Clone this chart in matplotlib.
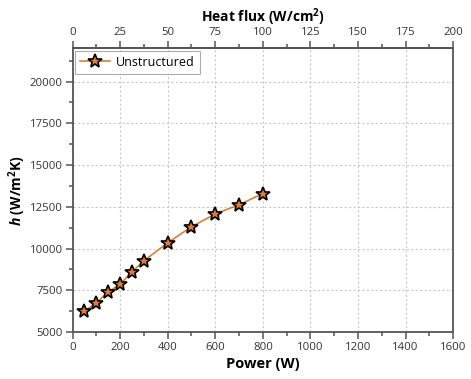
import matplotlib.pyplot as plt
from matplotlib.ticker import MultipleLocator, FixedLocator

plt.rcParams['font.family'] = ['Open Sans', 'DejaVu Sans']
plt.rcParams['mathtext.fontset'] = 'custom'
plt.rcParams['mathtext.rm'] = 'Open Sans'
plt.rcParams['mathtext.bf'] = 'Open Sans:bold'
plt.rcParams['mathtext.bfit'] = 'Open Sans:bold:italic'

# Heat transfer coefficient vs. heater power, unstructured surface
power = [50, 100, 150, 200, 250, 300, 400, 500, 600, 700, 800]
h_vals = [6240, 6740, 7400, 7860, 8600, 9260, 10340, 11300, 12070, 12620, 13290]
flux_ticks = [0, 25, 50, 75, 100, 125, 150, 175, 200]

# Heater area used to convert power to heat flux (W -> W/cm^2)
area = 8.0

fig = plt.figure(figsize=(4.71, 3.79), dpi=100)
ax = fig.add_axes([0.154, 0.124, 0.808, 0.749])

ax.plot(power, h_vals, color='#E07B35', lw=1.2, marker='*', ms=10.5,
        mfc='#E07B35', mec='black', mew=1.2, label='Unstructured')

ax.set_xlim(0, 1600)
ax.set_ylim(5000, 22000)
ax.xaxis.set_major_locator(MultipleLocator(200))
ax.xaxis.set_minor_locator(MultipleLocator(100))
ax.yaxis.set_minor_locator(MultipleLocator(1250))
ax.set_yticks([5000, 7500, 10000, 12500, 15000, 17500, 20000])

ax.grid(True, which='major', ls=(0, (2, 2)), color='#c8c8c8', lw=0.8)
ax.set_axisbelow(True)

for sp in ax.spines.values():
    sp.set_color('#555555')
    sp.set_linewidth(1.3)

ax.tick_params(which='both', direction='out', color='#555555', width=1.1,
               labelsize=8.2, colors='#333333', pad=2)
ax.tick_params(which='major', length=5)
ax.tick_params(which='minor', length=3)
ax.tick_params(axis='y', which='both', right=False)

ax.set_xlabel('Power (W)', fontsize=10.5, fontweight='bold', labelpad=3)
ax.set_ylabel(r'$\mathbfit{h}$ (W/m$^\mathbf{2}$K)', fontsize=10,
              fontweight='bold', labelpad=1)

top = ax.secondary_xaxis('top', functions=(lambda x: x / area, lambda x: x * area))
top.xaxis.set_major_locator(FixedLocator(flux_ticks))
top.xaxis.set_minor_locator(FixedLocator([t + 12.5 for t in flux_ticks[:-1]]))
top.tick_params(which='both', direction='out', color='#555555', width=1.1,
                labelsize=8.2, colors='#333333', pad=2)
top.tick_params(which='major', length=5)
top.tick_params(which='minor', length=3)
top.spines['top'].set_color('#555555')
top.spines['top'].set_linewidth(1.3)
top.set_xlabel(r'Heat flux (W/cm$^\mathbf{2}$)', fontsize=10,
               fontweight='bold', labelpad=4)

leg = ax.legend(loc='upper left', fontsize=9, frameon=True, fancybox=False,
                edgecolor='#999999', borderaxespad=0.2, handlelength=2.4,
                borderpad=0.4, handletextpad=0.5)
leg.get_frame().set_linewidth(0.8)

fig.savefig('out.png', dpi=100)
